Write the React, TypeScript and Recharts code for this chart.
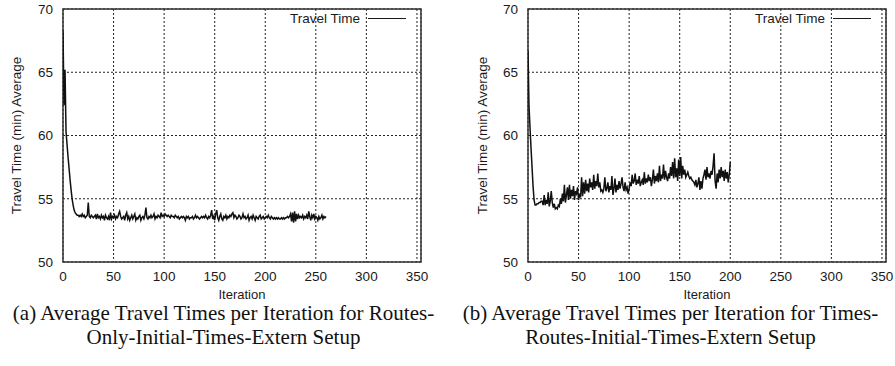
import { LineChart, Line, XAxis, YAxis, CartesianGrid, ReferenceArea, Legend } from "recharts";

// iteration = index in the array
const routesOnlyTimes = [
  68.3, 62.4, 65.2, 60.3, 59.3, 58.3, 57.4, 56.5, 55.7, 55.0, 54.5, 54.1, 53.9, 53.8, 53.7,
  53.7, 53.6, 53.7, 53.6, 53.8, 53.6, 53.7, 53.5, 53.6, 53.7, 54.7, 53.6, 53.5, 53.7, 53.6,
  53.5, 53.6, 53.7, 53.4, 53.8, 53.5, 53.6, 53.4, 53.7, 53.5, 53.6, 53.3, 53.7, 53.5, 53.4,
  53.6, 53.3, 53.9, 53.4, 53.6, 53.5, 53.7, 53.4, 53.6, 53.5, 53.8, 54.0, 53.6, 53.4, 53.5,
  53.6, 53.3, 53.7, 53.9, 53.4, 53.6, 53.3, 53.5, 53.7, 53.4, 53.6, 53.8, 53.3, 53.5, 53.4,
  53.6, 53.7, 53.3, 53.5, 53.6, 53.4, 53.7, 54.3, 53.5, 53.4, 53.6, 53.5, 53.7, 53.5, 53.6,
  53.8, 53.4, 53.6, 53.5, 53.7, 53.6, 53.5, 53.9, 53.6, 53.7, 53.6, 53.8, 53.7, 53.6, 53.7,
  53.6, 53.5, 53.7, 53.6, 53.6, 53.5, 53.7, 53.6, 53.5, 53.6, 53.4, 53.5, 53.6, 53.5, 53.6,
  53.5, 53.3, 53.6, 53.5, 53.6, 53.4, 53.5, 53.5, 53.6, 53.4, 53.5, 53.7, 53.5, 53.6, 53.5,
  53.4, 53.5, 53.6, 53.5, 53.6, 53.5, 53.7, 53.5, 53.4, 53.6, 53.5, 53.7, 54.1, 53.4, 53.6,
  53.3, 53.8, 54.1, 53.5, 53.3, 53.6, 53.8, 53.4, 53.3, 53.6, 53.5, 53.7, 53.4, 53.6, 53.5,
  53.7, 53.6, 53.8, 53.9, 53.5, 53.7, 53.6, 53.4, 53.5, 53.7, 53.6, 53.4, 53.5, 53.8, 53.5,
  53.6, 53.4, 53.5, 53.7, 53.3, 53.5, 53.6, 53.4, 53.7, 53.5, 53.3, 53.6, 53.5, 53.4, 53.6,
  53.7, 53.4, 53.5, 53.6, 53.4, 53.5, 53.6, 53.5, 53.7, 53.5, 53.4, 53.6, 53.5, 53.4, 53.5,
  53.4, 53.5, 53.4, 53.5, 53.4, 53.4, 53.5, 53.4, 53.5, 53.4, 53.5, 53.5, 53.6, 53.5, 53.6,
  53.8, 53.2, 53.9, 53.1, 54.0, 53.2, 53.8, 53.4, 53.7, 53.5, 53.6, 53.5, 53.7, 53.4, 53.6,
  53.5, 53.7, 53.4, 54.0, 53.6, 53.3, 53.7, 53.5, 53.8, 53.4, 53.6, 53.5, 53.3, 53.6, 53.4,
  53.5, 53.7, 53.4, 53.6, 53.5, 53.6,
];

const timesRoutesTimes = [
  66.7, 62.3, 60.6, 59.0, 57.5, 56.0, 54.9, 54.5, 54.5, 54.6, 54.6, 54.7, 54.7, 54.8, 54.8,
  54.5, 55.3, 54.5, 54.9, 54.6, 55.5, 54.4, 54.8, 55.6, 54.7, 54.3, 54.6, 54.2, 54.3, 54.2,
  54.5, 54.4, 55.0, 54.6, 55.4, 54.8, 56.1, 54.7, 55.3, 55.9, 54.9, 56.1, 55.0, 55.7, 55.2,
  56.0, 54.9, 55.6, 55.4, 55.9, 54.9, 55.4, 55.1, 56.7, 55.2, 56.3, 55.4, 56.5, 55.6, 56.2,
  55.5, 56.6, 55.9, 56.3, 55.7, 56.9, 55.8, 56.4, 56.0, 57.0, 55.9, 56.3, 55.6, 55.7, 55.5,
  55.8, 56.7, 55.6, 55.8, 56.3, 55.5, 56.0, 55.7, 56.8, 55.3, 55.8, 56.6, 55.5, 56.1, 55.7,
  56.4, 55.8, 56.2, 56.7, 55.9, 55.6, 56.3, 55.7, 55.9, 55.4, 55.8, 56.3, 56.0, 56.9, 56.2,
  56.4, 57.0, 56.1, 56.5, 56.2, 56.8, 56.0, 56.3, 56.5, 56.1, 57.1, 56.2, 56.6, 56.3, 56.9,
  56.4, 56.7, 56.0, 56.5, 57.3, 56.2, 56.8, 56.4, 57.0, 56.3, 57.6, 56.4, 56.9, 56.6, 57.7,
  56.5, 57.2, 56.7, 56.4, 57.0, 56.6, 57.5, 56.8, 57.9, 56.6, 58.2, 56.7, 57.4, 56.4, 58.1,
  56.8, 58.3, 56.6, 57.6, 56.9, 57.3, 56.7, 56.9, 57.1, 56.8, 56.6, 56.7, 56.5, 56.4, 56.3,
  56.1, 56.5, 55.9, 56.2, 56.7, 55.7, 56.4, 55.8, 56.6, 56.9, 57.3, 56.5, 57.5, 56.7, 57.0,
  56.6, 57.2, 56.9, 57.6, 58.6, 56.4, 55.8, 57.0, 56.3, 57.3, 56.6, 57.5, 56.7, 57.2, 56.4,
  57.3, 56.6, 57.1, 56.3, 56.9, 57.9,
];

const xTicks = [0, 50, 100, 150, 200, 250, 300, 350];
const yTicks = [50, 55, 60, 65, 70];
const seriesName = "Travel Time";
const yLabel = "Travel Time (min) Average";
const xLabel = "Iteration";
const captionA = ["(a) Average Travel Times per Iteration for Routes-", "Only-Initial-Times-Extern Setup"];
const captionB = ["(b) Average Travel Times per Iteration for Times-", "Routes-Initial-Times-Extern Setup"];

const sans = "'Liberation Sans', Arial, sans-serif";
const ink = "#1a1a1a";
const tickStyle = { fontSize: 13.5, fill: ink, fontFamily: sans };

function LegendLine({ left }: { left: number }) {
  return (
    <div style={{ position: "absolute", left, top: 11, display: "flex", alignItems: "center", whiteSpace: "nowrap", fontFamily: sans, fontSize: 13.5, color: ink }}>
      <span>{seriesName}</span>
      <span style={{ display: "inline-block", width: 38, borderTop: `1.3px solid ${ink}`, marginLeft: 8 }} />
    </div>
  );
}

function Panel({ values, yWidth, right, labelOffset, legendLeft }: {
  values: number[]; yWidth: number; right: number; labelOffset: number; legendLeft: number;
}) {
  const data = values.map((v, i) => ({ iter: i, time: v }));
  const width = yWidth + 358 + right;
  return (
    <LineChart width={width} height={305} data={data} margin={{ top: 9, right, left: 0, bottom: 0 }}>
      <CartesianGrid stroke="#222" strokeDasharray="2 2" strokeWidth={1} />
      <XAxis
        type="number" dataKey="iter" domain={[0, 354]} ticks={xTicks} allowDataOverflow
        height={43} tickLine={false} tickSize={0} tickMargin={9} axisLine={false} tick={tickStyle}
        label={{ value: xLabel, position: "insideBottom", offset: 6, style: { fontSize: 13, fill: ink, fontFamily: sans } }}
      />
      <YAxis
        type="number" domain={[50, 70]} ticks={yTicks} width={yWidth}
        tickLine={false} tickSize={0} tickMargin={10} axisLine={false} tick={tickStyle}
        label={{ value: yLabel, angle: -90, position: "insideLeft", offset: labelOffset, style: { textAnchor: "middle", fontSize: 13.5, fill: ink, fontFamily: sans } }}
      />
      <ReferenceArea x1={0} x2={354} y1={50} y2={70} fill="none" stroke="#333" strokeWidth={1.5} />
      <Legend
        layout="horizontal" verticalAlign="middle" align="center"
        wrapperStyle={{ top: 0, left: 0, width: 0, height: 0 }}
        content={() => <LegendLine left={legendLeft} />}
      />
      <Line
        type="linear" dataKey="time" name={seriesName} stroke="#111" strokeWidth={1.5}
        dot={false} activeDot={false} isAnimationActive={false}
      />
    </LineChart>
  );
}

const captionStyle = {
  position: "absolute" as const, width: 445, textAlign: "center" as const, whiteSpace: "nowrap" as const,
  fontFamily: "'Liberation Serif', 'Times New Roman', serif", fontSize: 21, color: "#111", lineHeight: "24px",
};

export default function App() {
  return (
    <div style={{ position: "absolute", left: 0, top: 0, width: 895, height: 366, background: "#fff", overflow: "hidden" }}>
      <div style={{ position: "absolute", left: 0, top: 0 }}>
        <Panel values={routesOnlyTimes} yWidth={63} right={24} labelOffset={16} legendLeft={290} />
      </div>
      <div style={{ position: "absolute", left: 445, top: 0 }}>
        <Panel values={timesRoutesTimes} yWidth={83} right={9} labelOffset={37} legendLeft={310} />
      </div>
      <div style={{ ...captionStyle, left: 1, top: 301 }}>
        <div>{captionA[0]}</div>
        <div>{captionA[1]}</div>
      </div>
      <div style={{ ...captionStyle, left: 448, top: 301 }}>
        <div>{captionB[0]}</div>
        <div>{captionB[1]}</div>
      </div>
    </div>
  );
}
